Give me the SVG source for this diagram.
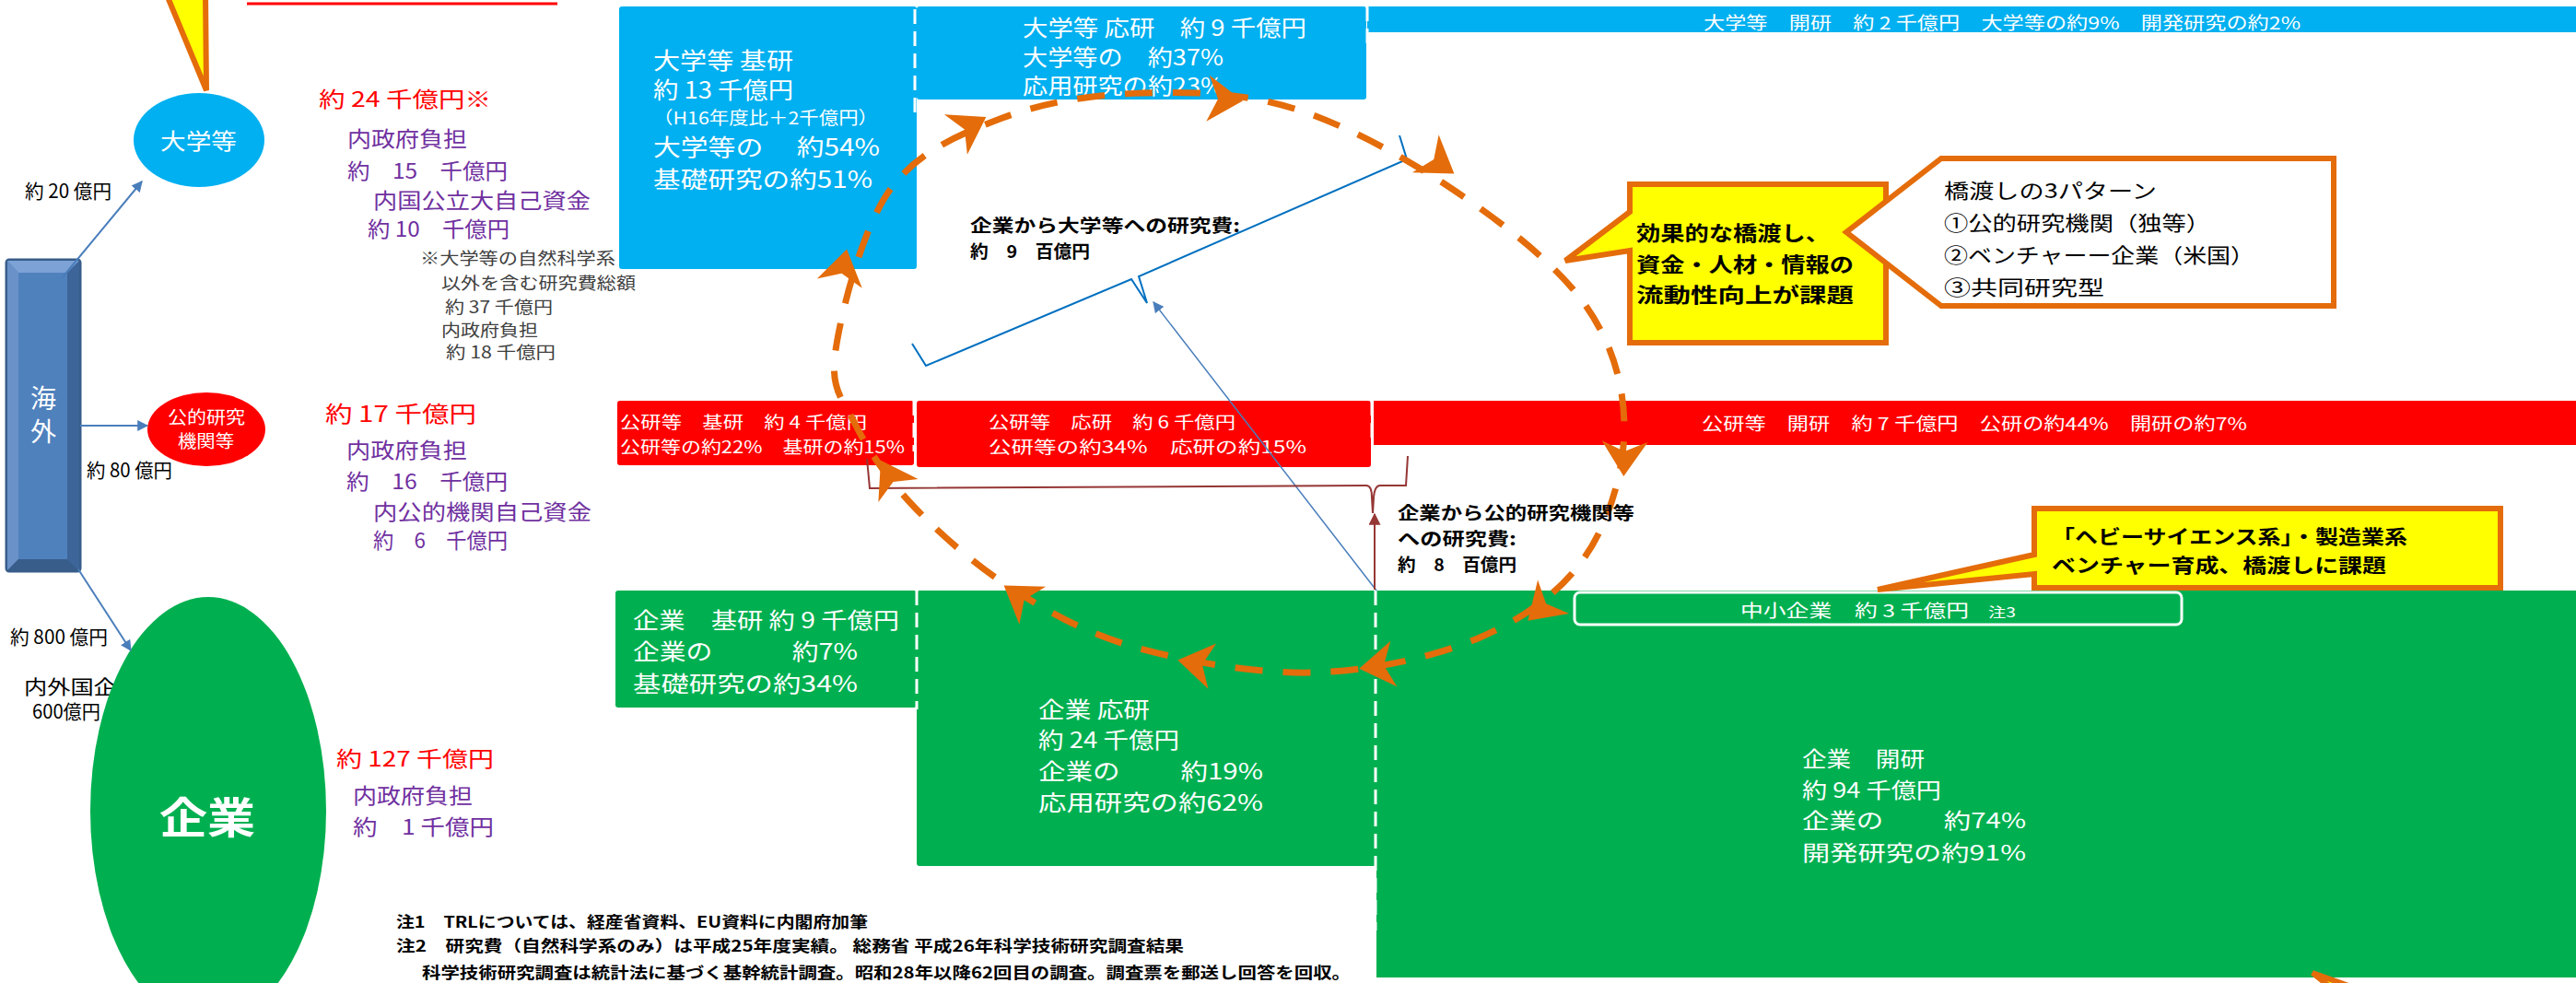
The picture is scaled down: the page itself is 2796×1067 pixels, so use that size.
<svg xmlns="http://www.w3.org/2000/svg" width="2796" height="1067" viewBox="0 0 2796 1067">
<defs>
<style>
text { font-family: "Noto Sans CJK JP", "Noto Sans", sans-serif; }
.w { fill:#FFFFFF; }
.r { fill:#FF0000; }
.p { fill:#7030A0; }
.k { fill:#000000; }
.g { fill:#404040; }
.b { font-weight:bold; }
.blue { fill:#00B0F0; }
.red { fill:#FF0000; }
.green { fill:#00B050; }
.dash { stroke:#FFFFFF; stroke-width:3; stroke-dasharray:16 8; fill:none; }
.circ { fill:none; stroke:#E46C0A; stroke-width:7; stroke-dasharray:30 22; }
.chev { fill:#E46C0A; }
.call { fill:#FFFF00; stroke:#E46C0A; stroke-width:6; stroke-linejoin:miter; }
.callw { fill:#FFFFFF; stroke:#E46C0A; stroke-width:6; stroke-linejoin:miter; }
.arw { stroke:#4A7EBB; stroke-width:2; fill:none; }
.brw { stroke:#0070C0; stroke-width:2; fill:none; }
.drd { stroke:#953735; stroke-width:2; fill:none; }
</style>
<marker id="ab" viewBox="0 0 10 10" refX="9" refY="5" markerWidth="12" markerHeight="12" markerUnits="userSpaceOnUse" orient="auto"><path d="M0,0 L10,5 L0,10 Z" fill="#4A7EBB"/></marker>
<marker id="ar" viewBox="0 0 10 10" refX="9" refY="5" markerWidth="13" markerHeight="13" markerUnits="userSpaceOnUse" orient="auto"><path d="M0,0 L10,5 L0,10 Z" fill="#953735"/></marker>
<path id="chev" d="M 20 0 L -18 -25 L -7 0 L -18 25 Z"/>
</defs>
<rect x="0" y="0" width="2796" height="1067" fill="#FFFFFF"/>

<!-- top-left partial callout and cut-off underline -->
<g id="callout-top">
<polygon class="call" points="180,-8 224,98 223,-8"/>
</g>
<g id="title-cut">
<line x1="268" y1="4" x2="605" y2="4" stroke="#FF0000" stroke-width="3"/>
</g>

<!-- overseas -->
<g id="node-kaigai">
<rect x="7" y="282" width="80" height="338" rx="3" fill="#4F81BD" stroke="#385D8A" stroke-width="3"/>
<polygon points="8,283 86,283 73,296 20,296" fill="#7DA2D6"/>
<polygon points="8,283 20,296 20,607 8,619" fill="#6B91C9"/>
<polygon points="86,283 86,619 73,607 73,296" fill="#3D6599"/>
<polygon points="8,619 86,619 73,607 20,607" fill="#385D8A"/>
<rect x="20" y="296" width="53" height="311" fill="#4F81BD"/>
<text x="47" y="443" font-size="28" text-anchor="middle" class="w">海</text>
<text x="47" y="479" font-size="28" text-anchor="middle" class="w">外</text>
</g>

<!-- university circle -->
<g id="node-daigaku">
<ellipse cx="216" cy="152" rx="71" ry="51" fill="#00B0F0"/>
<text x="174" y="162" font-size="24" textLength="83" lengthAdjust="spacingAndGlyphs" class="w">大学等</text>
</g>

<!-- public research circle -->
<g id="node-koteki">
<ellipse cx="224" cy="466" rx="64" ry="40" fill="#FF0000"/>
<text x="182" y="460" font-size="19" textLength="84" lengthAdjust="spacingAndGlyphs" class="w">公的研究</text>
<text x="193" y="486" font-size="19" textLength="61" lengthAdjust="spacingAndGlyphs" class="w">機関等</text>
</g>

<!-- overseas labels -->
<g id="labels-overseas">
<text x="27" y="215" font-size="21" textLength="94" lengthAdjust="spacingAndGlyphs" class="k">約 20 億円</text>
<text x="94" y="518" font-size="21" textLength="93" lengthAdjust="spacingAndGlyphs" class="k">約 80 億円</text>
<text x="11" y="699" font-size="21" textLength="106" lengthAdjust="spacingAndGlyphs" class="k">約 800 億円</text>
<text x="26" y="753" font-size="21" textLength="126" lengthAdjust="spacingAndGlyphs" class="k">内外国企業</text>
<text x="35" y="780" font-size="21" textLength="74" lengthAdjust="spacingAndGlyphs" class="k">600億円</text>
</g>

<!-- company ellipse -->
<g id="node-kigyo">
<ellipse cx="226" cy="880" rx="128" ry="232" fill="#00B050"/>
<text x="173" y="904" font-size="46" textLength="104" lengthAdjust="spacingAndGlyphs" class="w b">企業</text>
</g>

<!-- amounts -->
<g id="amount-daigaku">
<text x="346" y="116" font-size="23" textLength="187" lengthAdjust="spacingAndGlyphs" class="r">約 24 千億円※</text>
<text x="377" y="159" font-size="23" textLength="130" lengthAdjust="spacingAndGlyphs" class="p">内政府負担</text>
<text x="377" y="194" font-size="23" textLength="174" lengthAdjust="spacingAndGlyphs" class="p">約　15　千億円</text>
<text x="405" y="226" font-size="23" textLength="236" lengthAdjust="spacingAndGlyphs" class="p">内国公立大自己資金</text>
<text x="399" y="257" font-size="23" textLength="154" lengthAdjust="spacingAndGlyphs" class="p">約 10　千億円</text>
<text x="456" y="287" font-size="18" textLength="212" lengthAdjust="spacingAndGlyphs" class="g">※大学等の自然科学系</text>
<text x="479" y="314" font-size="18" textLength="211" lengthAdjust="spacingAndGlyphs" class="g">以外を含む研究費総額</text>
<text x="483" y="340" font-size="18" textLength="117" lengthAdjust="spacingAndGlyphs" class="g">約 37 千億円</text>
<text x="479" y="365" font-size="18" textLength="105" lengthAdjust="spacingAndGlyphs" class="g">内政府負担</text>
<text x="484" y="389" font-size="18" textLength="119" lengthAdjust="spacingAndGlyphs" class="g">約 18 千億円</text>
</g>
<g id="amount-koteki">
<text x="353" y="458" font-size="24" textLength="164" lengthAdjust="spacingAndGlyphs" class="r">約 17 千億円</text>
<text x="376" y="497" font-size="23" textLength="131" lengthAdjust="spacingAndGlyphs" class="p">内政府負担</text>
<text x="376" y="531" font-size="23" textLength="175" lengthAdjust="spacingAndGlyphs" class="p">約　16　千億円</text>
<text x="405" y="564" font-size="23" textLength="237" lengthAdjust="spacingAndGlyphs" class="p">内公的機関自己資金</text>
<text x="405" y="595" font-size="23" textLength="146" lengthAdjust="spacingAndGlyphs" class="p">約　6　千億円</text>
</g>
<g id="amount-kigyo">
<text x="365" y="832" font-size="23" textLength="171" lengthAdjust="spacingAndGlyphs" class="r">約 127 千億円</text>
<text x="383" y="872" font-size="23" textLength="130" lengthAdjust="spacingAndGlyphs" class="p">内政府負担</text>
<text x="383" y="906" font-size="23" textLength="153" lengthAdjust="spacingAndGlyphs" class="p">約　1 千億円</text>
</g>

<!-- university row -->
<g id="node-daigaku-kiso">
<rect x="672" y="7" width="323" height="285" rx="3" class="blue"/>
<text x="709" y="75" font-size="25" textLength="152" lengthAdjust="spacingAndGlyphs" class="w">大学等 基研</text>
<text x="709" y="107" font-size="25" textLength="152" lengthAdjust="spacingAndGlyphs" class="w">約 13 千億円</text>
<text x="709" y="135" font-size="19" textLength="244" lengthAdjust="spacingAndGlyphs" class="w">（H16年度比＋2千億円）</text>
<text x="709" y="169" font-size="25" textLength="246" lengthAdjust="spacingAndGlyphs" class="w">大学等の　 約54%</text>
<text x="709" y="204" font-size="25" textLength="238" lengthAdjust="spacingAndGlyphs" class="w">基礎研究の約51%</text>
</g>
<g id="node-daigaku-oyo">
<rect x="995" y="7" width="488" height="101" rx="3" class="blue"/>
<text x="1110" y="39" font-size="24" textLength="308" lengthAdjust="spacingAndGlyphs" class="w">大学等 応研　約 9 千億円</text>
<text x="1110" y="71" font-size="24" textLength="218" lengthAdjust="spacingAndGlyphs" class="w">大学等の　約37%</text>
<text x="1110" y="102" font-size="24" textLength="218" lengthAdjust="spacingAndGlyphs" class="w">応用研究の約23%</text>
</g>
<g id="node-daigaku-kaihatsu">
<rect x="1484" y="7" width="1312" height="28" class="blue"/>
<text x="1849" y="32" font-size="19" textLength="648" lengthAdjust="spacingAndGlyphs" class="w">大学等　開研　約 2 千億円　大学等の約9%　開発研究の約2%</text>
</g>
<line x1="993" y1="10" x2="993" y2="130" class="dash"/>
<line x1="1484" y1="7" x2="1484" y2="47" class="dash"/>

<!-- public row -->
<g id="node-koken-kiso">
<rect x="670" y="435" width="322" height="70" rx="3" class="red"/>
<text x="673" y="465" font-size="18" textLength="268" lengthAdjust="spacingAndGlyphs" class="w">公研等　基研　約 4 千億円</text>
<text x="673" y="492" font-size="18" textLength="309" lengthAdjust="spacingAndGlyphs" class="w">公研等の約22%　基研の約15%</text>
</g>
<g id="node-koken-oyo">
<rect x="995" y="435" width="493" height="72" rx="3" class="red"/>
<text x="1073" y="465" font-size="18" textLength="268" lengthAdjust="spacingAndGlyphs" class="w">公研等　応研　約 6 千億円</text>
<text x="1073" y="492" font-size="18" textLength="345" lengthAdjust="spacingAndGlyphs" class="w">公研等の約34%　応研の約15%</text>
</g>
<g id="node-koken-kaihatsu">
<rect x="1491" y="435" width="1305" height="48" class="red"/>
<text x="1847" y="467" font-size="19" textLength="592" lengthAdjust="spacingAndGlyphs" class="w">公研等　開研　約 7 千億円　公研の約44%　開研の約7%</text>
</g>
<line x1="992" y1="435" x2="992" y2="490" class="dash"/>
<line x1="1489" y1="435" x2="1489" y2="480" class="dash"/>

<!-- company row -->
<g id="node-kigyo-kiso">
<rect x="668" y="641" width="327" height="127" rx="3" class="green"/>
<text x="687" y="682" font-size="24" textLength="289" lengthAdjust="spacingAndGlyphs" class="w">企業　基研 約 9 千億円</text>
<text x="687" y="716" font-size="24" textLength="244" lengthAdjust="spacingAndGlyphs" class="w">企業の　　　約7%</text>
<text x="687" y="751" font-size="24" textLength="244" lengthAdjust="spacingAndGlyphs" class="w">基礎研究の約34%</text>
</g>
<g id="node-kigyo-oyo">
<rect x="995" y="641" width="499" height="299" rx="3" class="green"/>
<text x="1127" y="779" font-size="24" textLength="121" lengthAdjust="spacingAndGlyphs" class="w">企業 応研</text>
<text x="1127" y="812" font-size="24" textLength="153" lengthAdjust="spacingAndGlyphs" class="w">約 24 千億円</text>
<text x="1127" y="846" font-size="24" textLength="244" lengthAdjust="spacingAndGlyphs" class="w">企業の　　 約19%</text>
<text x="1127" y="880" font-size="24" textLength="244" lengthAdjust="spacingAndGlyphs" class="w">応用研究の約62%</text>
</g>
<g id="node-kigyo-kaihatsu">
<rect x="1494" y="641" width="1302" height="420" class="green"/>
<text x="1956" y="832" font-size="23" textLength="133" lengthAdjust="spacingAndGlyphs" class="w">企業　開研</text>
<text x="1956" y="866" font-size="23" textLength="151" lengthAdjust="spacingAndGlyphs" class="w">約 94 千億円</text>
<text x="1956" y="899" font-size="23" textLength="243" lengthAdjust="spacingAndGlyphs" class="w">企業の　　 約74%</text>
<text x="1956" y="934" font-size="23" textLength="243" lengthAdjust="spacingAndGlyphs" class="w">開発研究の約91%</text>
</g>
<g id="node-chusho">
<rect x="1709" y="643" width="659" height="35" rx="6" fill="#00B050" stroke="#FFFFFF" stroke-width="3"/>
<text x="1889" y="670" font-size="19" textLength="248" lengthAdjust="spacingAndGlyphs" class="w">中小企業　約 3 千億円</text>
<text x="2158" y="670" font-size="15" textLength="30" lengthAdjust="spacingAndGlyphs" class="w">注3</text>
</g>
<line x1="995" y1="641" x2="995" y2="770" class="dash"/>
<line x1="1493" y1="641" x2="1493" y2="1010" class="dash"/>

<!-- notes -->
<g id="notes">
<text x="430" y="1007" font-size="17" textLength="512" lengthAdjust="spacingAndGlyphs" class="k b">注1　TRLについては、経産省資料、EU資料に内閣府加筆</text>
<text x="430" y="1033" font-size="17" textLength="855" lengthAdjust="spacingAndGlyphs" class="k b">注2　研究費（自然科学系のみ）は平成25年度実績。 総務省 平成26年科学技術研究調査結果</text>
<text x="458" y="1062" font-size="17" textLength="1008" lengthAdjust="spacingAndGlyphs" class="k b">科学技術研究調査は統計法に基づく基幹統計調査。昭和28年以降62回目の調査。調査票を郵送し回答を回収。</text>
</g>

<!-- connectors -->
<g id="connectors">
<line x1="67" y1="302" x2="154" y2="197" class="arw" marker-end="url(#ab)"/>
<line x1="87" y1="462" x2="160" y2="462" class="arw" marker-end="url(#ab)"/>
<line x1="85" y1="618" x2="142" y2="706" class="arw" marker-end="url(#ab)"/>
<path d="M 990 373 L 1005 397 L 1228 303 L 1245 329 L 1236 300 L 1527 173 L 1519 147" class="brw"/>
<line x1="1494" y1="641" x2="1252" y2="328" stroke="#4A7EBB" stroke-width="1.5" marker-end="url(#ab)"/>
<path d="M 941 498 L 944 530 L 1483 527 Q 1489 527 1489 540 L 1490 557 L 1491 540 Q 1492 527 1498 527 L 1526 527 L 1528 495" class="drd"/>
<line x1="1492" y1="640" x2="1492" y2="558" class="drd" marker-end="url(#ar)"/>
<path class="circ" d="M 907 380 C 913.3 337.7, 935.8 248, 966 206 C 996.2 164, 1042.3 145.5, 1088 128 C 1133.7 110.5, 1187.2 102.7, 1240 101 C 1292.8 99.3, 1348.5 100.3, 1405 118 C 1461.5 135.7, 1526.5 171.7, 1579 207 C 1631.5 242.3, 1689.3 287, 1720 330 C 1750.7 373, 1763 419.2, 1763 465 C 1763 510.8, 1746.5 567, 1720 605 C 1693.5 643, 1653.2 672.2, 1604 693 C 1554.8 713.8, 1486.7 728.3, 1425 730 C 1363.3 731.7, 1288.2 718, 1234 703 C 1179.8 688, 1140.3 665.5, 1100 640 C 1059.7 614.5, 1020.7 580, 992 550 C 963.3 520, 942.2 488.3, 928 460 C 913.8 431.7, 900.7 422.3, 907 380 Z"/>
<use href="#chev" class="chev" transform="translate(915,290) rotate(-78)"/>
<use href="#chev" class="chev" transform="translate(1053,137) rotate(-30)"/>
<use href="#chev" class="chev" transform="translate(1329,108) rotate(4)"/>
<use href="#chev" class="chev" transform="translate(1562,177) rotate(35)"/>
<use href="#chev" class="chev" transform="translate(1763,497) rotate(92)"/>
<use href="#chev" class="chev" transform="translate(1673,660) rotate(137)"/>
<use href="#chev" class="chev" transform="translate(1495,723) rotate(172)"/>
<use href="#chev" class="chev" transform="translate(1298,720) rotate(190)"/>
<use href="#chev" class="chev" transform="translate(1106,647) rotate(215)"/>
<use href="#chev" class="chev" transform="translate(966,517) rotate(240)"/>
</g>

<g id="connector-labels">
<text x="1053" y="252" font-size="19" textLength="293" lengthAdjust="spacingAndGlyphs" class="k b">企業から大学等への研究費:</text>
<text x="1053" y="280" font-size="19" textLength="130" lengthAdjust="spacingAndGlyphs" class="k b">約　9　百億円</text>
<text x="1517" y="564" font-size="19" textLength="257" lengthAdjust="spacingAndGlyphs" class="k b">企業から公的研究機関等</text>
<text x="1517" y="592" font-size="19" textLength="129" lengthAdjust="spacingAndGlyphs" class="k b">への研究費:</text>
<text x="1517" y="620" font-size="19" textLength="129" lengthAdjust="spacingAndGlyphs" class="k b">約　8　百億円</text>
</g>

<!-- callouts -->
<g id="callout-kakewatashi">
<polygon class="call" points="1769,200 2047,200 2047,372 1769,372 1769,272 1699,283 1769,230"/>
<text x="1776" y="261" font-size="22" textLength="210" lengthAdjust="spacingAndGlyphs" class="k b">効果的な橋渡し、</text>
<text x="1776" y="295" font-size="22" textLength="236" lengthAdjust="spacingAndGlyphs" class="k b">資金・人材・情報の</text>
<text x="1776" y="328" font-size="22" textLength="236" lengthAdjust="spacingAndGlyphs" class="k b">流動性向上が課題</text>
</g>
<g id="callout-patterns">
<polygon class="callw" points="2107,172 2533,172 2533,332 2107,332 2004,252"/>
<text x="2110" y="215" font-size="22" textLength="231" lengthAdjust="spacingAndGlyphs" class="k">橋渡しの3パターン</text>
<text x="2110" y="250" font-size="22" textLength="289" lengthAdjust="spacingAndGlyphs" class="k">①公的研究機関（独等）</text>
<text x="2110" y="285" font-size="22" textLength="337" lengthAdjust="spacingAndGlyphs" class="k">②ベンチャーー企業（米国）</text>
<text x="2110" y="320" font-size="22" textLength="174" lengthAdjust="spacingAndGlyphs" class="k">③共同研究型</text>
</g>
<g id="callout-heavy">
<polygon class="call" points="2208,552 2714,552 2714,638 2208,638 2208,623 2038,640 2208,602"/>
<text x="2227" y="590" font-size="21" textLength="386" lengthAdjust="spacingAndGlyphs" class="k b">「ヘビーサイエンス系」・製造業系</text>
<text x="2227" y="621" font-size="21" textLength="363" lengthAdjust="spacingAndGlyphs" class="k b">ベンチャー育成、橋渡しに課題</text>
</g>
<g id="callout-bottom">
<polygon class="call" points="2510,1056 2560,1074 2540,1080"/>
</g>
</svg>
